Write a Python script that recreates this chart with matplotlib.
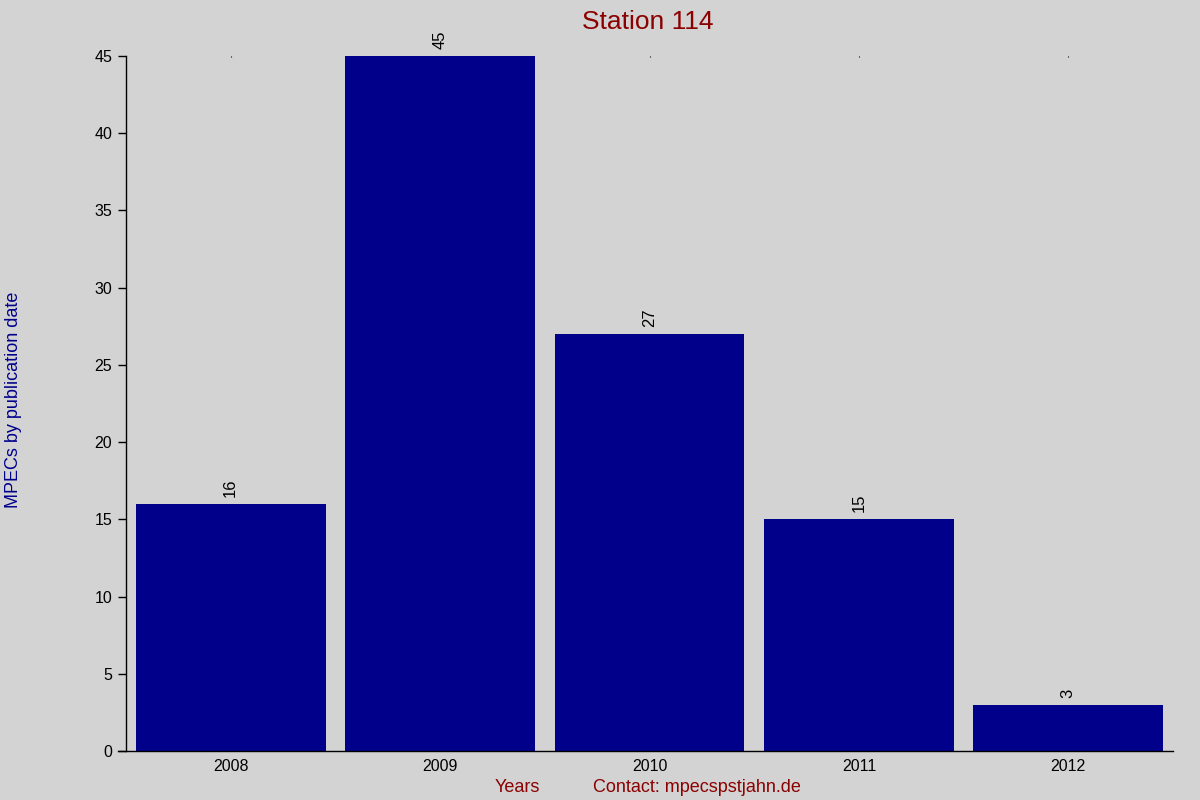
import matplotlib
matplotlib.use("Agg")
import matplotlib.pyplot as plt

years = ["2008", "2009", "2010", "2011", "2012"]
counts = [16, 45, 27, 15, 3]

plt.rcParams['font.family'] = ['Liberation Sans', 'DejaVu Sans']

bg = '#d3d3d3'
fig = plt.figure(figsize=(12, 8), dpi=100, facecolor=bg)
ax = fig.add_axes([0.105, 0.06125, 0.8725, 0.86875], facecolor=bg)

pos = range(len(years))
bars = ax.bar(pos, counts, width=0.907, color='#00008b', zorder=2)
for x, v in zip(pos, counts):
    ax.annotate(str(v), (x, v), xytext=(0, 5), textcoords='offset points',
                rotation=90, ha='center', va='bottom', fontsize=12)

ax.set_xlim(-0.5, len(years) - 0.5)
ax.set_ylim(0, 45)
ax.set_yticks(range(0, 46, 5))
ax.set_xticks(list(pos))
ax.set_xticklabels(years)
ax.tick_params(axis='y', direction='out', length=6, width=1, labelsize=11.5, pad=4)
ax.tick_params(axis='x', bottom=False, top=True, direction='in', length=1,
               width=0.8, labelsize=11.5, pad=6)
ax.set_axisbelow(True)
ax.spines['top'].set_visible(False)
ax.spines['right'].set_visible(False)
ax.spines['left'].set_linewidth(1)
ax.spines['bottom'].set_linewidth(1)
ax.spines['bottom'].set_bounds(-0.54, len(years) - 0.5)

fig.text(0.54, 0.973, "Station 114", color='#8b0000', fontsize=19, ha='center', va='center')
fig.text(0.0115, 0.5, "MPECs by publication date", color='#00008b', fontsize=13,
         rotation=90, ha='center', va='center')
fig.text(0.431, 0.016, "Years", color='#8b0000', fontsize=13, ha='center', va='center')
fig.text(0.581, 0.016, "Contact: mpecspstjahn.de", color='#8b0000', fontsize=13,
         ha='center', va='center')

fig.savefig("out.png", dpi=100, facecolor=bg)
